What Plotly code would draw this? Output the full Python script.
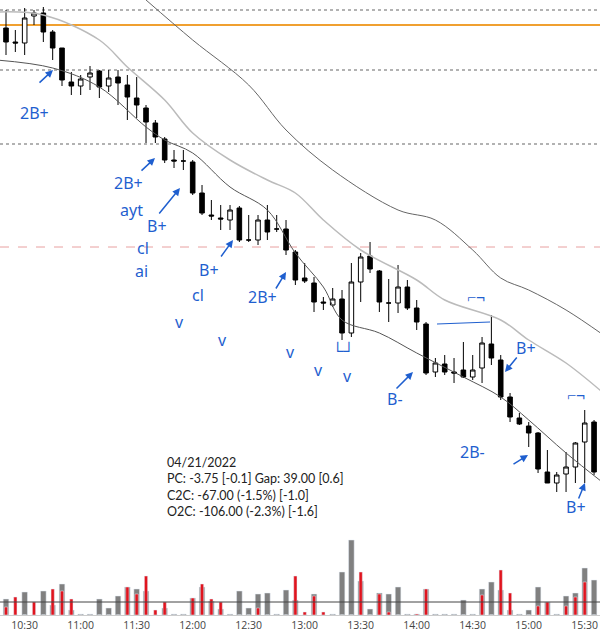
import plotly.graph_objects as go
import pandas as pd

base = pd.Timestamp("2022-04-21 10:20")
opens  = [4472,4458,4457,4484,4487,4468,4452,4418,4414,4423,4429,4414,4423,4415,4402,4392,4377,4361,4340,4339,
          4338,4307,4285,4282,4280,4292,4260,4260,4280,4271,4271,4248,4222,4217,4198,4195,4201,4167,4218,4244,
          4229,4197,4197,4213,4192,4176,4128,4136,4128,4130,4123,4132,4156,4140,4103,4082,4074,4067,4028,4017,
          4026,4033,4058,4078]
highs  = [4490,4470,4492,4490,4493,4470,4452,4428,4425,4434,4430,4430,4430,4425,4423,4395,4380,4363,4350,4350,
          4340,4315,4300,4295,4295,4294,4285,4285,4295,4285,4280,4250,4237,4223,4203,4212,4210,4237,4247,4258,
          4230,4221,4235,4220,4200,4178,4142,4145,4142,4158,4145,4163,4185,4145,4107,4087,4078,4068,4050,4028,
          4048,4058,4090,4080]
lows   = [4445,4448,4445,4475,4458,4440,4414,4405,4405,4410,4402,4408,4395,4380,4382,4357,4357,4337,4332,4330,
          4305,4285,4280,4270,4270,4258,4258,4255,4260,4268,4245,4215,4217,4188,4190,4193,4160,4163,4198,4227,
          4188,4178,4187,4190,4170,4125,4123,4125,4117,4122,4120,4117,4135,4100,4078,4075,4053,4027,4017,4008,
          4008,4017,4017,4025]
closes = [4458,4457,4482,4487,4468,4452,4420,4414,4421,4427,4413,4422,4417,4403,4395,4378,4363,4340,4339,4339,
          4307,4287,4284,4281,4290,4260,4260,4280,4268,4271,4250,4220,4219,4198,4197,4201,4167,4218,4243,4231,
          4198,4197,4213,4192,4178,4127,4137,4128,4127,4123,4130,4157,4142,4103,4083,4076,4067,4031,4017,4025,
          4033,4057,4077,4028]
vol_gray = [16,0,23,0,24,10,31,5,1,1,16,7,19,28,26,24,0,7,1,1,17,28,14,6,1,24,7,21,22,1,25,15,0,21,0,1,43,75,34,6,
            22,21,28,1,1,26,1,1,1,15,1,26,33,25,5,1,5,28,13,1,19,22,47,35]
vol_red = [8,18,0,13,0,26,24,16,0,0,0,0,0,28,21,39,5,13,0,0,17,31,16,13,0,0,0,7,0,0,0,39,3,19,3,0,0,0,43,0,
           21,3,0,0,1,26,0,0,0,0,0,20,0,45,22,0,0,9,13,0,9,18,33,0]
upper_idx = [15,20,26,30,35,42,46,50,53,56,60,64]
upper_val = [4500,4460,4415,4370,4330,4290,4280,4250,4222,4210,4190,4165]
mid_idx = [-1,4,10,13,17,20,24,28,31,34,38,44,47,53,56,60,64]
mid_val = [4488,4485,4460,4433,4400,4367,4340,4320,4307,4280,4250,4220,4200,4180,4160,4137,4107]
low_idx = [-1,5,10,15,17,20,24,28,31,34,36,40,44,49,53,56,60,64]
low_val = [4440,4432,4413,4373,4360,4347,4313,4290,4247,4213,4180,4167,4147,4123,4103,4080,4047,4017]
vol_avg = 13

t = [base + pd.Timedelta(minutes=5*i) for i in range(len(opens))]
tt = lambda idx: [base + pd.Timedelta(minutes=5*i) for i in idx]

fig = go.Figure()
fig.add_trace(go.Scatter(x=tt(upper_idx), y=upper_val, mode="lines", line=dict(color="#666", width=1), line_shape="spline"))
fig.add_trace(go.Scatter(x=tt(mid_idx), y=mid_val, mode="lines", line=dict(color="#bbb", width=1.5), line_shape="spline"))
fig.add_trace(go.Scatter(x=tt(low_idx), y=low_val, mode="lines", line=dict(color="#555", width=1), line_shape="spline"))
fig.add_trace(go.Candlestick(x=t, open=opens, high=highs, low=lows, close=closes,
    increasing=dict(line=dict(color="black", width=1), fillcolor="white"),
    decreasing=dict(line=dict(color="black", width=1), fillcolor="black"), whiskerwidth=0))
w = 5*60*1000
fig.add_trace(go.Bar(x=t, y=vol_gray, marker_color="#808080", width=w*0.6, xaxis="x2", yaxis="y2"))
fig.add_trace(go.Bar(x=t, y=vol_red, marker_color="#e0141e", width=w*0.35, xaxis="x2", yaxis="y2"))

xr = ["2022-04-21 10:16:47", "2022-04-21 15:38:11"]
hl = [(4490, "#999", "dot", 1.5), (4430, "#999", "dot", 1.5), (4356, "#999", "dot", 1.5),
      (4475, "#f0a030", "solid", 2), (4253, "#e8a0a0", "dash", 1)]
for yv, c, d, wd in hl:
    fig.add_shape(type="line", xref="paper", yref="y", x0=0, x1=1, y0=yv, y1=yv, line=dict(color=c, dash=d, width=wd), layer="below")
fig.add_shape(type="line", xref="paper", yref="y2", x0=0, x1=1, y0=vol_avg, y1=vol_avg, line=dict(color="#444", width=1))

H = 615
P = lambda px, py: (px/600, 1-py/H)
blue = "#1f5fcf"
texts = [("2B+",18,100),("2B+",112,170),("ayt",118,197),("B+",145,226),("cl",135,248),("ai",133,271),
         ("B+",197,270),("cl",190,295),("2B+",262,297),("B-",395,412),("B+",538,348),("2B-",487,465),("B+",588,520),
         ("v",173,322),("v",222,340),("v",290,352),("v",318,370),("v",347,376),
         ("⌐¬",487,297),("⌐¬",587,395),("└┘",343,350)]
ann = []
for s, x, y in texts:
    px, py = P(x, y)
    ann.append(dict(text=s, x=px, y=py, xref="paper", yref="paper", showarrow=False,
                    font=dict(color=blue, size=16, family="Noto Sans")))
arrows = [((38,84),(53,70)),((140,172),(155,158)),((158,215),(180,188)),((220,258),(233,240)),
          ((275,290),(286,272)),((395,390),(413,372)),((518,356),(505,372)),((512,465),(528,455)),((578,500),(585,483))]
for (tx, ty), (hx, hy) in arrows:
    px, py = P(hx, hy)
    ann.append(dict(x=px, y=py, xref="paper", yref="paper", ax=tx-hx, ay=ty-hy, showarrow=True,
                    arrowhead=2, arrowwidth=1.5, arrowcolor=blue, text=""))
fig.add_shape(type="line", xref="paper", yref="paper", x0=437/600, y0=1-324/H, x1=490/600, y1=1-322/H, line=dict(color=blue, width=1))
px, py = P(165, 453)
ann.append(dict(x=px, y=py, xref="paper", yref="paper", xanchor="left", yanchor="top", showarrow=False, align="left",
    text="04/21/2022<br>PC: -3.75 [-0.1] Gap: 39.00 [0.6]<br>C2C: -67.00 (-1.5%) [-1.0]<br>O2C: -106.00 (-2.3%) [-1.6]",
    font=dict(size=12.5, color="#222", family="Lato")))

fig.update_layout(width=600, height=633, margin=dict(l=0, r=0, t=0, b=18), showlegend=False,
    plot_bgcolor="white", paper_bgcolor="white", barmode="overlay", annotations=ann,
    xaxis=dict(range=xr, rangeslider=dict(visible=False), showticklabels=False, showgrid=False, anchor="y"),
    yaxis=dict(range=[3985, 4500], domain=[100/H, 1], showticklabels=False, showgrid=False, zeroline=False),
    xaxis2=dict(range=xr, matches="x", anchor="y2", showgrid=False, tickformat="%H:%M", dtick=30*60*1000,
                tick0="2022-04-21 10:30", tickfont=dict(size=10.5, color="#444"), ticks="", ticklen=0,
                showline=True, linecolor="#ccc"),
    yaxis2=dict(range=[0, 78], domain=[0, 78/H], showticklabels=False, showgrid=False, zeroline=False))
fig.write_html("out.html", config={"displayModeBar": False},
               post_script="document.body.style.margin='0';document.body.style.overflow='hidden';")
